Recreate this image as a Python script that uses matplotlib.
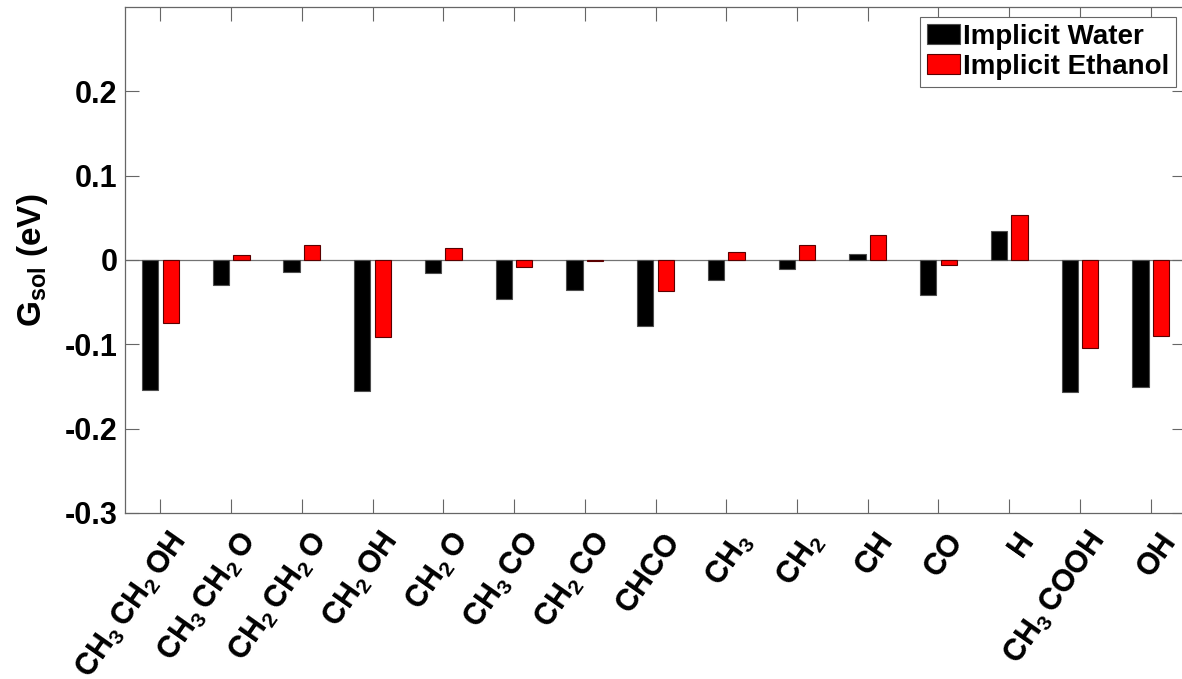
import numpy as np
import matplotlib.pyplot as plt
from matplotlib.transforms import ScaledTranslation

plt.rcParams['font.family'] = ['Liberation Sans', 'DejaVu Sans']
plt.rcParams['mathtext.fontset'] = 'custom'
plt.rcParams['mathtext.rm'] = 'Liberation Sans:bold'
plt.rcParams['mathtext.bf'] = 'Liberation Sans:bold'
plt.rcParams['mathtext.default'] = 'bf'

# species on the x axis
species = [r'CH$_3\,$CH$_2\,$OH', r'CH$_3\,$CH$_2\,$O', r'CH$_2\,$CH$_2\,$O',
           r'CH$_2\,$OH', r'CH$_2\,$O', r'CH$_3\,$CO', r'CH$_2\,$CO', 'CHCO',
           r'CH$_3$', r'CH$_2$', 'CH', 'CO', 'H', r'CH$_3\,$COOH', 'OH']

# solvation free energies (eV)
water = [-0.154, -0.030, -0.0145, -0.155, -0.015, -0.046, -0.035, -0.078,
         -0.024, -0.0105, 0.007, -0.042, 0.034, -0.157, -0.151]
ethanol = [-0.075, 0.0055, 0.0176, -0.091, 0.0137, -0.0086, -0.001, -0.037,
           0.0098, 0.0176, 0.030, -0.0063, 0.0528, -0.104, -0.090]

x = np.arange(1, len(species) + 1)
w = 0.23
off = 0.145

fig = plt.figure(figsize=(11.82, 6.79), dpi=100)
ax = fig.add_axes([0.1058, 0.2445, 0.8976, 0.7452])

ax.axhline(0, color='0.45', lw=0.9, zorder=1)
ax.bar(x - off, water, w, color='black', edgecolor='0.3', lw=0.8,
       label='Implicit Water', zorder=2)
ax.bar(x + off, ethanol, w, color='#ff0000', edgecolor='#5a0000', lw=0.8,
       label='Implicit Ethanol', zorder=2)

ax.set_xlim(0.5, 15.5)
ax.set_ylim(-0.3, 0.3)
ax.set_yticks([-0.3, -0.2, -0.1, 0, 0.1, 0.2])
ax.set_yticklabels(['-0.3', '-0.2', '-0.1', '0', '0.1', '0.2'],
                   fontsize=22, fontweight='bold')
ax.set_xticks(x)
ax.set_xticklabels(species, fontsize=22, fontweight='bold', rotation=55,
                   ha='right', va='top', rotation_mode='anchor')
ax.tick_params(axis='both', direction='in', length=10, width=0.8,
               color='0.4', top=True, right=True)
ax.tick_params(axis='y', pad=5.5)
ax.tick_params(axis='x', pad=0)
shift = ScaledTranslation(0.07, -0.14, fig.dpi_scale_trans)
for lab in ax.get_xticklabels():
    lab.set_transform(lab.get_transform() + shift)
for s in ax.spines.values():
    s.set_color('0.4')
    s.set_linewidth(0.9)

ax.set_ylabel(r'G$_{sol}$ (eV)', fontsize=24, fontweight='bold')
ax.yaxis.set_label_coords(-0.071, 0.5)

leg = ax.legend(loc='upper right', prop={'weight': 'bold', 'size': 20},
                fancybox=False, edgecolor='0.4', framealpha=1,
                handlelength=1.2, handleheight=0.7, handletextpad=0.1,
                labelspacing=0.15, borderpad=0.25, borderaxespad=0.35)
leg.get_frame().set_linewidth(0.8)

fig.savefig('out.png', dpi=100)
